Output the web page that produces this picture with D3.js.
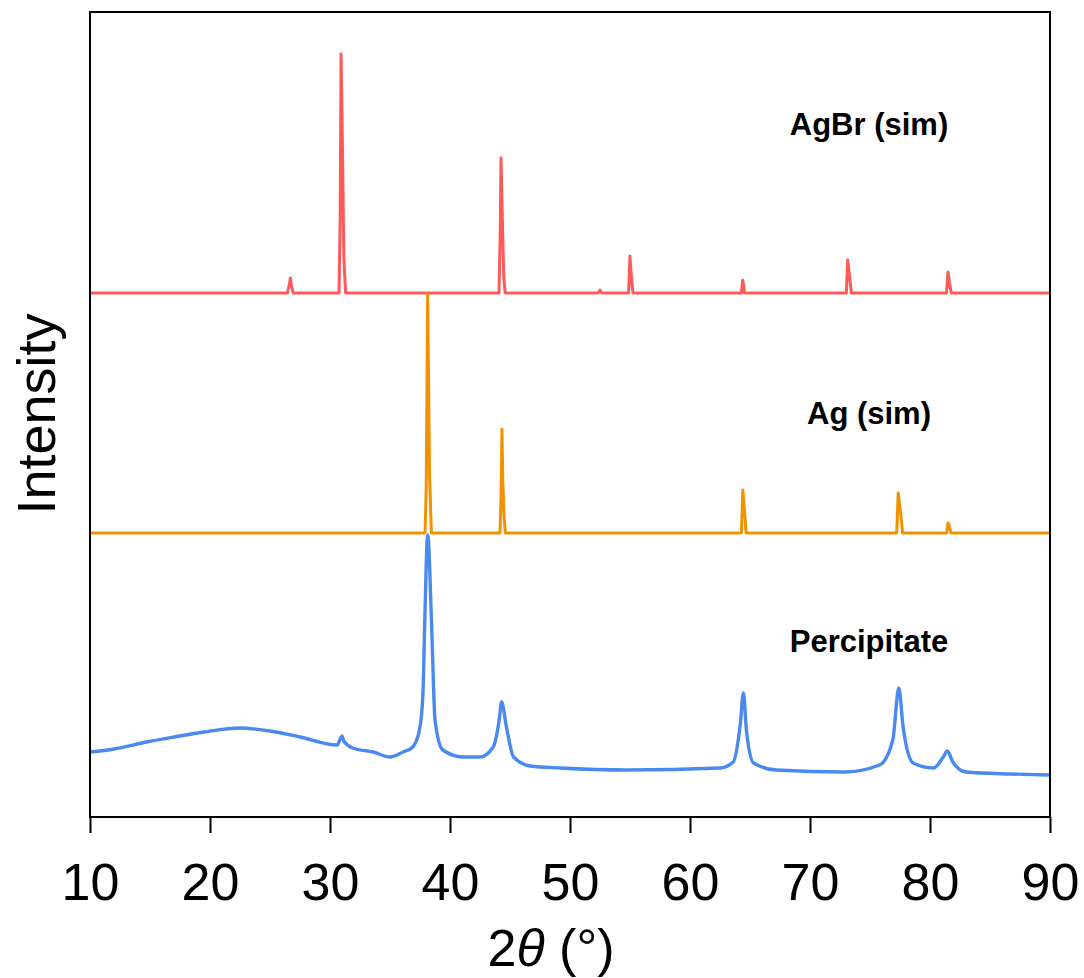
<!DOCTYPE html>
<html>
<head>
<meta charset="utf-8">
<script src="https://cdn.jsdelivr.net/npm/d3@7"></script>
<style>
  html, body { margin: 0; padding: 0; background: #fff; }
  svg { display: block; }
  text { font-family: "Liberation Sans", Arial, sans-serif; }
</style>
</head>
<body>
<div id="chart"></div>
<script>
// ---- Data (2θ in degrees, intensity in arbitrary units incl. vertical offset) ----
const xTicks = [10, 20, 30, 40, 50, 60, 70, 80, 90];

const agbrSim = [
  [10, 524], [26.45, 524], [26.6, 532], [26.7, 539], [26.8, 530], [26.95, 524],
  [30.75, 524], [30.85, 600], [30.92, 763], [31.0, 700], [31.06, 652], [31.15, 560], [31.3, 524],
  [44.08, 524], [44.18, 580], [44.25, 659], [44.32, 620], [44.38, 590], [44.48, 540], [44.6, 524],
  [52.35, 524], [52.5, 527], [52.65, 524],
  [54.88, 524], [55.0, 561], [55.1, 542], [55.25, 524],
  [64.28, 524], [64.4, 537], [64.55, 524],
  [73.03, 524], [73.14, 557], [73.3, 540], [73.45, 524],
  [81.38, 524], [81.5, 545], [81.62, 534], [81.78, 524],
  [90, 524]
];

const agSim = [
  [10, 284], [37.92, 284], [38.02, 330], [38.14, 522], [38.22, 430], [38.3, 340], [38.45, 284],
  [44.17, 284], [44.25, 320], [44.33, 388], [44.4, 337], [44.5, 300], [44.62, 284],
  [64.28, 284], [64.4, 327], [64.55, 305], [64.68, 284],
  [77.23, 284], [77.35, 324], [77.55, 304], [77.72, 284],
  [81.38, 284], [81.5, 294], [81.62, 290], [81.75, 284],
  [90, 284]
];

const percipitate = [
  [10, 65], [12, 68], [14.7, 75], [17, 80], [19.5, 85], [22.5, 89], [25, 86], [27.5, 80],
  [30.6, 72], [30.85, 78], [31.0, 81], [31.15, 76], [31.9, 69], [33.6, 65], [35.0, 60],
  [36.1, 65], [36.9, 70], [37.5, 90], [37.75, 125], [37.9, 197], [38.14, 282], [38.5, 180],
  [38.75, 97], [39.4, 67], [41.1, 60], [42.5, 60], [43.6, 70], [44.1, 97], [44.3, 115],
  [44.7, 90], [45.3, 60], [46.7, 51], [49.2, 49], [54.7, 47], [62.5, 49], [63.6, 55],
  [64.2, 94], [64.45, 124], [64.7, 87], [65.3, 54], [67.2, 47], [72.8, 45], [75.8, 52],
  [76.9, 77], [77.4, 129], [77.76, 90], [78.6, 54], [80.3, 49], [81.1, 60], [81.45, 66],
  [81.9, 55], [83, 45], [86.7, 43], [90, 42]
];

const seriesNames = ["AgBr (sim)", "Ag (sim)", "Percipitate"];
const seriesColors = ["#FF5A5A", "#F39200", "#4A89F0"];
const labelValues = [682, 393, 165]; // label baseline positions in intensity units

// ---- Layout ----
const W = 1084, H = 978;
const mLeft = 90, mRight = 1050, mTop = 12, mBottom = 817;

const svg = d3.select("#chart").append("svg").attr("width", W).attr("height", H);

const x = d3.scaleLinear().domain([10, 90]).range([mLeft, mRight]);
const y = d3.scaleLinear().domain([0, 805]).range([mBottom, mTop]);

svg.append("clipPath").attr("id", "clip")
  .append("rect").attr("x", mLeft).attr("y", mTop).attr("width", mRight - mLeft).attr("height", mBottom - mTop);

const line = d3.line().x(d => x(d[0])).y(d => y(d[1]));
const smooth = d3.line().x(d => x(d[0])).y(d => y(d[1])).curve(d3.curveMonotoneX);

const g = svg.append("g").attr("clip-path", "url(#clip)");
[[agbrSim, line], [agSim, line], [percipitate, smooth]].forEach(([data, gen], i) => {
  g.append("path").datum(data)
    .attr("d", gen)
    .attr("fill", "none")
    .attr("stroke", seriesColors[i])
    .attr("stroke-width", i === 2 ? 3.4 : 3)
    .attr("stroke-linejoin", "round");
});

// labels
seriesNames.forEach((name, i) => {
  svg.append("text")
    .attr("x", 869).attr("y", y(labelValues[i]))
    .attr("text-anchor", "middle")
    .attr("font-weight", "bold")
    .attr("font-size", 31)
    .attr("fill", "#000")
    .text(name);
});

// x axis
const xAxis = d3.axisBottom(x).tickValues(xTicks).tickSize(16).tickPadding(30).tickFormat(d3.format("d"));
const ax = svg.append("g").attr("transform", `translate(0,${mBottom})`).call(xAxis);
ax.select(".domain").remove();
ax.selectAll(".tick line").attr("stroke", "#000").attr("stroke-width", 2);
ax.selectAll(".tick text")
  .attr("font-size", 52).attr("fill", "#000")
  .attr("font-family", "'Liberation Sans', Arial, sans-serif");

// frame
svg.append("rect")
  .attr("x", mLeft).attr("y", mTop).attr("width", mRight - mLeft).attr("height", mBottom - mTop)
  .attr("fill", "none").attr("stroke", "#000").attr("stroke-width", 2);

// axis titles
const xt = svg.append("text")
  .attr("x", 551).attr("y", 966)
  .attr("text-anchor", "middle")
  .attr("font-size", 52).attr("fill", "#000");
xt.append("tspan").text("2");
xt.append("tspan").attr("font-style", "italic").text("θ");
xt.append("tspan").text(" (°)");

svg.append("text")
  .attr("transform", `translate(55,414) rotate(-90)`)
  .attr("text-anchor", "middle")
  .attr("font-size", 54).attr("fill", "#000")
  .text("Intensity");
</script>
</body>
</html>
